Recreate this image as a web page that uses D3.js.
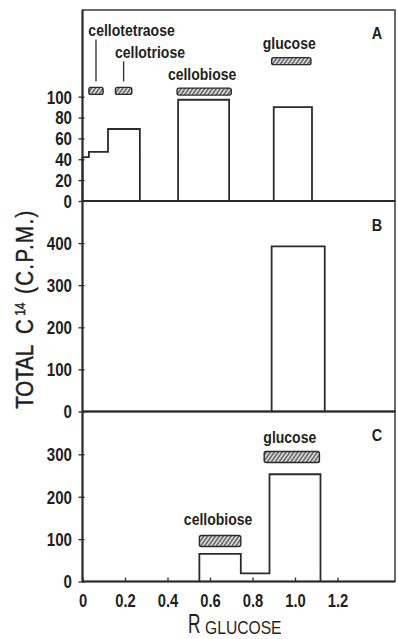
<!DOCTYPE html>
<html><head><meta charset="utf-8">
<script src="https://cdn.jsdelivr.net/npm/d3@7"></script>
<style>
html,body{margin:0;padding:0;background:#fff;}
svg{display:block;}
text{font-family:"Liberation Sans",Arial,sans-serif;fill:#1f1f1f;}
</style></head><body>
<svg id="chart" width="398" height="639"></svg>
<script>
// Shared R(glucose) axis
const rTicks = [0, 0.2, 0.4, 0.6, 0.8, 1.0, 1.2];

// Panel A: histogram bin edges (R glucose) and counts
const edgesA = [0, 0.03, 0.12, 0.27, 0.45, 0.69, 0.9, 1.08];
const cpmA = [42, 47, 69, 0, 97, 0, 90];
const ticksA = [0, 20, 40, 60, 80, 100];
const standardNamesA = ["cellotetraose", "cellotriose", "cellobiose", "glucose"];
const standardStartA = [0.03, 0.155, 0.445, 0.89];
const standardEndA = [0.097, 0.232, 0.70, 1.075];

// Panel B
const edgesB = [0.89, 1.14];
const cpmB = [392];
const ticksB = [0, 100, 200, 300, 400];

// Panel C
const edgesC = [0.55, 0.745, 0.88, 1.12];
const cpmC = [65, 19, 253];
const ticksC = [0, 100, 200, 300];
const standardNamesC = ["cellobiose", "glucose"];
const standardStartC = [0.55, 0.855];
const standardEndC = [0.745, 1.115];

const ink = "#2b2b2b";
const svg = d3.select("#chart");

// horizontally condense a text element to mimic the narrow typeface
function squeeze(sel, k) {
  sel.each(function () {
    const w = this.getComputedTextLength();
    d3.select(this).attr("textLength", w * k).attr("lengthAdjust", "spacingAndGlyphs");
  });
}

const defs = svg.append("defs");
defs.append("pattern")
  .attr("id", "hatch").attr("patternUnits", "userSpaceOnUse")
  .attr("width", 3.2).attr("height", 3.2)
  .attr("patternTransform", "rotate(35)")
  .call(p => {
    p.append("rect").attr("width", 3.2).attr("height", 3.2).attr("fill", "#d8d8d8");
    p.append("line").attr("x1", 0.8).attr("x2", 0.8).attr("y1", 0).attr("y2", 3.2)
      .attr("stroke", "#3a3a3a").attr("stroke-width", 1.1);
  });

const x = d3.scaleLinear().domain([0, 1.4706]).range([82.5, 395]);

const panels = [
  { key: "A", top: 10, bottom: 201, max: 183, edges: edgesA, cpm: cpmA, ticks: ticksA,
    letterY: 39,
    std: { names: standardNamesA, start: standardStartA, end: standardEndA,
           level: [105.5, 105.5, 104.8, 134], h: 7,
           lift: [51, 29, 8, 9], align: ["start", "start", "middle", "middle"],
           leader: [true, true, false, false] } },
  { key: "B", top: 201, bottom: 411.5, max: 500, edges: edgesB, cpm: cpmB, ticks: ticksB,
    letterY: 230.5, std: null },
  { key: "C", top: 411.5, bottom: 581.5, max: 401, edges: edgesC, cpm: cpmC, ticks: ticksC,
    letterY: 440.5,
    std: { names: standardNamesC, start: standardStartC, end: standardEndC,
           level: [95.5, 293.6], h: 11,
           lift: [10.5, 9], align: ["middle", "middle"], leader: [false, false] } }
];

panels.forEach(p => {
  const y = d3.scaleLinear().domain([0, p.max]).range([p.bottom, p.top]);
  const g = svg.append("g");

  // frame
  g.append("rect")
    .attr("x", x.range()[0]).attr("y", p.top)
    .attr("width", x.range()[1] - x.range()[0]).attr("height", p.bottom - p.top)
    .attr("fill", "none").attr("stroke", ink).attr("stroke-width", 1.4);
  // baseline and ordinate
  g.append("line").attr("x1", x.range()[0]).attr("x2", x.range()[1])
    .attr("y1", y(0)).attr("y2", y(0)).attr("stroke", ink).attr("stroke-width", 2.2);
  g.append("line").attr("x1", x.range()[0]).attr("x2", x.range()[0])
    .attr("y1", p.top).attr("y2", p.bottom).attr("stroke", ink).attr("stroke-width", 2);

  // y axis
  const ax = g.append("g").attr("transform", `translate(${x.range()[0]},0)`)
    .call(d3.axisLeft(y).tickValues(p.ticks).tickSize(4).tickPadding(6.5).tickFormat(d3.format("d")));
  ax.select(".domain").remove();
  ax.selectAll(".tick line").attr("x2", -4).attr("x1", 2).attr("stroke", ink).attr("stroke-width", 1.3);
  ax.selectAll(".tick text")
    .attr("font-family", '"Liberation Sans",Arial,sans-serif')
    .attr("font-size", 18).attr("font-weight", "bold").attr("fill", "#1f1f1f")
    .attr("dy", "0.36em")
    .call(squeeze, 0.84);

  // step histogram
  const pts = [[p.edges[0], 0]];
  p.cpm.forEach((v, i) => { pts.push([p.edges[i], v]); pts.push([p.edges[i + 1], v]); });
  pts.push([p.edges[p.edges.length - 1], 0]);
  g.append("path").datum(pts)
    .attr("d", d3.line().x(d => x(d[0])).y(d => y(d[1])))
    .attr("fill", "none").attr("stroke", ink).attr("stroke-width", 1.8)
    .attr("stroke-linejoin", "miter");

  // reference standards (hatched bands)
  if (p.std) {
    const s = p.std;
    s.names.forEach((name, i) => {
      const x0 = x(s.start[i]), x1 = x(s.end[i]);
      const yc = y(s.level[i]);
      g.append("rect")
        .attr("x", x0).attr("y", yc - s.h / 2)
        .attr("width", x1 - x0).attr("height", s.h)
        .attr("rx", 2).attr("fill", "url(#hatch)")
        .attr("stroke", ink).attr("stroke-width", 1.4);
      const ty = yc - s.h / 2 - s.lift[i];
      const tx = s.align[i] === "start" ? x0 - 0.5 : (x0 + x1) / 2 - 2;
      g.append("text")
        .attr("x", tx).attr("y", ty)
        .attr("text-anchor", s.align[i])
        .attr("font-size", 16).attr("font-weight", "bold")
        .text(name)
        .call(squeeze, 0.875);
      if (s.leader[i]) {
        g.append("line")
          .attr("x1", (x0 + x1) / 2).attr("x2", (x0 + x1) / 2)
          .attr("y1", ty + 3).attr("y2", yc - s.h / 2 - 6)
          .attr("stroke", ink).attr("stroke-width", 1.3);
      }
    });
  }

  // panel letter
  g.append("text").attr("x", 377).attr("y", p.letterY)
    .attr("text-anchor", "middle").attr("font-size", 17).attr("font-weight", "bold")
    .text(p.key).call(squeeze, 0.85);

  // x axis ticks and labels on the bottom panel
  if (p.key === "C") {
    const xa = g.append("g").attr("transform", `translate(0,${p.bottom})`)
      .call(d3.axisBottom(x).tickValues(rTicks).tickSize(4).tickPadding(9)
        .tickFormat(d => d === 0 ? "0" : d3.format(".1f")(d)));
    xa.select(".domain").remove();
    xa.selectAll(".tick line").attr("y2", -4).attr("stroke", ink).attr("stroke-width", 1.3);
    xa.selectAll(".tick text")
      .attr("font-family", '"Liberation Sans",Arial,sans-serif')
      .attr("font-size", 18).attr("font-weight", "bold").attr("fill", "#1f1f1f")
      .call(squeeze, 0.82);
  }
});

// y title: TOTAL C14 (C.P.M.)
const yt = svg.append("g").attr("transform", "translate(33,309) rotate(-90) scale(0.85,1)")
  .append("text").attr("text-anchor", "middle").attr("font-size", 24)
  .attr("stroke", "#1f1f1f").attr("stroke-width", 0.5);
yt.append("tspan").text("TOTAL");
yt.append("tspan").attr("dx", 13).text("C");
yt.append("tspan").attr("dx", 4).attr("dy", -8).attr("font-size", 14).text("14");
yt.append("tspan").attr("dx", 10).attr("dy", 8).attr("letter-spacing", 1.7).text("(C.P.M.)");

// x title: R GLUCOSE
svg.append("g").attr("transform", "translate(188,632.5) scale(0.64,1)")
  .append("text").attr("font-size", 27).text("R");
svg.append("g").attr("transform", "translate(205,634) scale(0.87,1)")
  .append("text").attr("font-size", 18).text("GLUCOSE");
</script>
</body></html>
